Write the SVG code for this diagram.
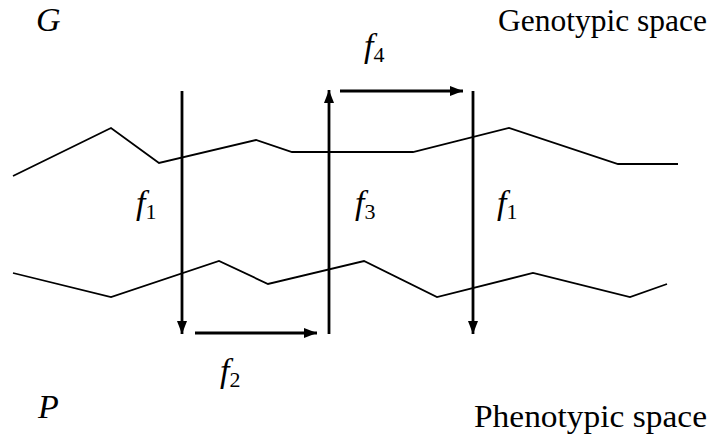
<svg xmlns="http://www.w3.org/2000/svg" width="714" height="441" viewBox="0 0 714 441">
<style>
.curve{fill:none;stroke:#000;stroke-width:1.8;stroke-linejoin:miter}
.arr{fill:none;stroke:#000;stroke-width:2.8}
text{fill:#000}
.lbl{font-size:32px}
.math{font-style:italic;font-size:34px}
.sub{font-style:normal;font-size:22px}
</style>
<defs>
<marker id="ah" viewBox="0 0 13 10" refX="13" refY="5" markerWidth="13" markerHeight="10" markerUnits="userSpaceOnUse" orient="auto">
<path d="M0,0 L13,5 L0,10 Z" fill="#000"/>
</marker>
</defs>
<g id="spaces">
<path id="genotype-curve" class="curve" d="M13,176 L111,128 L159,163 L256,140 L292,152 L413,152 L509,128 L618,164 L678,164"/>
<path id="phenotype-curve" class="curve" d="M13,273 L111,297 L219,261 L268,284 L364,261 L437,297 L533,273 L630,297 L667,284"/>
</g>
<g id="connectors">
<line class="arr" x1="182" y1="91" x2="182" y2="334" marker-end="url(#ah)"/>
<line class="arr" x1="329" y1="334" x2="329" y2="90" marker-end="url(#ah)"/>
<line class="arr" x1="473" y1="91" x2="473" y2="334" marker-end="url(#ah)"/>
<line class="arr" x1="195" y1="333" x2="317" y2="333" marker-end="url(#ah)"/>
<line class="arr" x1="340" y1="91" x2="463" y2="91" marker-end="url(#ah)"/>
</g>
<g id="labels" font-family="Liberation Serif, DejaVu Serif, serif">
<text class="math" x="36" y="31">G</text>
<text class="lbl" x="498" y="31" textLength="209" lengthAdjust="spacingAndGlyphs">Genotypic space</text>
<text class="math" x="364" y="57">f<tspan class="sub" dy="5">4</tspan></text>
<text class="math" x="136" y="214">f<tspan class="sub" dy="5">1</tspan></text>
<text class="math" x="355" y="214">f<tspan class="sub" dy="5">3</tspan></text>
<text class="math" x="497" y="214">f<tspan class="sub" dy="5">1</tspan></text>
<text class="math" x="220" y="382">f<tspan class="sub" dy="5">2</tspan></text>
<text class="math" x="38" y="418">P</text>
<text class="lbl" x="474" y="427" textLength="233" lengthAdjust="spacingAndGlyphs">Phenotypic space</text>
</g>
</svg>
